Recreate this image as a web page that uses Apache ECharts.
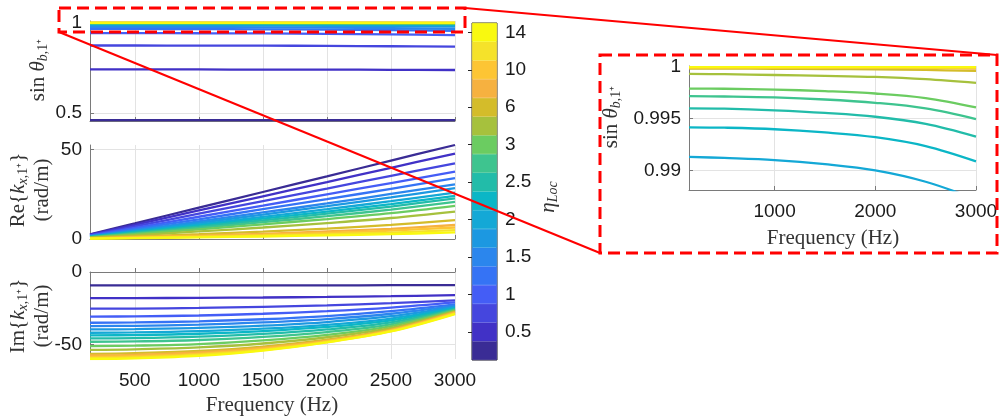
<!DOCTYPE html>
<html>
<head>
<meta charset="utf-8">
<title>sin theta / k_x vs frequency</title>
<script src="https://cdn.jsdelivr.net/npm/echarts@6/dist/echarts.min.js"></script>
<style>
  html, body { margin: 0; padding: 0; background: #fff; }
  #main { width: 1001px; height: 420px; }
</style>
</head>
<body>
<div id="main"></div>
<script>
// frequency samples (Hz)
var freq = [150, 500, 1000, 1500, 2000, 2500, 3000];

// eta_Loc levels, one per curve / colorbar band (bottom -> top)
var eta = [0.25, 0.5, 0.75, 1, 1.25, 1.5, 1.75, 2, 2.25, 2.5, 2.75, 3, 4, 6, 8, 10, 12, 14];
var etaColors = ['#3a2c95', '#4131c6', '#4546de', '#445df6', '#3573f5', '#2b86ed', '#1c98e1', '#14a8d6', '#0bb6c6',
                 '#22bca9', '#3ec48f', '#6bcc61', '#a6c13d', '#d4bc2a', '#f6b140', '#fdc534', '#f5e22a', '#f9f90f'];

// sin(theta_b,1+) per eta
var sinTheta = [
  [0.460, 0.460, 0.460, 0.460, 0.460, 0.460, 0.460],
  [0.741, 0.741, 0.741, 0.740, 0.740, 0.739, 0.738],
  [0.874, 0.874, 0.873, 0.873, 0.872, 0.870, 0.868],
  [0.943, 0.943, 0.942, 0.941, 0.939, 0.936, 0.932],
  [0.966, 0.966, 0.965, 0.964, 0.962, 0.959, 0.955],
  [0.977, 0.977, 0.976, 0.975, 0.973, 0.970, 0.966],
  [0.9855, 0.9854, 0.9850, 0.9843, 0.9832, 0.9815, 0.9790],
  [0.9913, 0.9912, 0.9910, 0.9906, 0.9900, 0.9889, 0.9872],
  [0.99417, 0.99413, 0.99398, 0.99367, 0.99321, 0.99235, 0.99087],
  [0.99600, 0.99597, 0.99581, 0.99556, 0.99519, 0.99450, 0.99327],
  [0.99718, 0.99715, 0.99706, 0.99686, 0.99654, 0.99600, 0.99497],
  [0.99792, 0.99790, 0.99782, 0.99767, 0.99744, 0.99700, 0.99609],
  [0.99933, 0.99931, 0.99923, 0.99915, 0.99904, 0.99882, 0.99846],
  [0.99985, 0.99985, 0.99983, 0.99981, 0.99978, 0.99972, 0.99962],
  [0.99995, 0.99995, 0.99994, 0.99993, 0.99992, 0.99990, 0.99986],
  [0.99998, 0.99998, 0.99998, 0.99997, 0.99997, 0.99996, 0.99994],
  [0.99999, 0.99999, 0.99999, 0.99999, 0.99999, 0.99998, 0.99997],
  [1.00000, 1.00000, 1.00000, 1.00000, 1.00000, 0.99999, 0.99999]
];

// Re{k_x,1+} (rad/m) per eta
var reK = [
  [2.6, 8.7, 17.5, 26.2, 34.9, 43.7, 52.4],
  [2.4, 7.9, 15.9, 23.8, 31.7, 39.7, 47.6],
  [2.1, 7.0, 14.1, 21.1, 28.1, 35.2, 42.2],
  [1.9, 6.2, 12.4, 18.6, 24.9, 31.2, 37.6],
  [1.7, 5.5, 11.0, 16.6, 22.2, 28.0, 33.9],
  [1.5, 4.9, 9.8, 14.8, 19.8, 25.1, 30.5],
  [1.4, 4.5, 9.0, 13.6, 18.3, 23.2, 28.3],
  [1.3, 4.1, 8.1, 12.3, 16.6, 21.1, 25.9],
  [1.2, 3.8, 7.5, 11.3, 15.3, 19.5, 24.1],
  [1.1, 3.5, 6.9, 10.4, 14.1, 18.1, 22.6],
  [1.0, 3.1, 6.2, 9.4, 12.7, 16.4, 20.7],
  [0.9, 2.7, 5.4, 8.2, 11.1, 14.4, 18.5],
  [0.7, 2.1, 4.2, 6.4, 8.9, 11.7, 15.3],
  [0.5, 1.4, 2.7, 4.1, 5.8, 7.9, 10.5],
  [0.4, 1.0, 1.9, 2.9, 4.2, 5.7, 7.8],
  [0.3, 0.8, 1.5, 2.3, 3.4, 4.7, 6.4],
  [0.2, 0.6, 1.2, 1.8, 2.6, 3.6, 5.0],
  [0.2, 0.5, 0.9, 1.4, 2.0, 2.7, 3.7]
];

// Im{k_x,1+} (rad/m) per eta
var imK = [
  [-9.2, -9.2, -9.2, -9.2, -9.2, -9.1, -9.0],
  [-18.0, -18.0, -17.8, -17.6, -17.2, -16.7, -16.0],
  [-25.3, -25.2, -24.8, -24.0, -23.0, -21.5, -19.5],
  [-30.8, -30.6, -30.0, -28.8, -27.0, -24.5, -21.0],
  [-35.0, -34.8, -34.0, -32.6, -30.4, -27.0, -22.3],
  [-37.3, -37.1, -36.3, -34.8, -32.5, -28.8, -23.2],
  [-39.6, -39.4, -38.6, -37.0, -34.5, -30.5, -24.0],
  [-41.9, -41.7, -40.8, -39.1, -36.4, -32.1, -24.6],
  [-43.7, -43.5, -42.6, -40.8, -37.9, -33.3, -25.1],
  [-45.8, -45.6, -44.6, -42.7, -39.6, -34.7, -25.6],
  [-48.1, -47.9, -46.9, -44.8, -41.4, -36.1, -26.0],
  [-51.1, -50.8, -49.7, -47.2, -43.3, -37.3, -26.5],
  [-53.7, -53.3, -52.0, -49.3, -45.0, -38.6, -27.0],
  [-56.4, -55.9, -54.4, -51.4, -46.7, -39.6, -27.5],
  [-57.6, -57.1, -55.5, -52.4, -47.4, -40.1, -27.9],
  [-58.5, -58.0, -56.4, -53.1, -47.9, -40.5, -28.3],
  [-59.4, -58.9, -57.2, -53.8, -48.3, -40.8, -28.7],
  [-60.0, -59.5, -57.8, -54.2, -48.5, -41.0, -29.0]
];

var freqTicks = [500, 1000, 1500, 2000, 2500, 3000];
var insetFreqTicks = [1000, 2000, 3000];
var sinTicks = [0.5, 1];
var reTicks = [0, 50];
var imTicks = [-50, 0];
var insetSinTicks = [0.99, 0.995, 1];

var chart = echarts.init(document.getElementById('main'));

var tickFont = 'Liberation Sans, Arial, sans-serif';
var serif = 'Liberation Serif, Times New Roman, serif';
var axisGrey = '#7a7a7a';
var gridGrey = '#e3e3e3';
var plain = function (v) { return String(v); };

function xAx(gi, ticks, min, showLabels) {
  return {
    gridIndex: gi, type: 'value', min: min, max: 3000,
    axisLine: { show: true, lineStyle: { color: axisGrey, width: 1 } },
    axisTick: { show: true, inside: true, length: 4, customValues: ticks, lineStyle: { color: axisGrey } },
    axisLabel: { show: showLabels, customValues: ticks, formatter: plain, margin: 12,
                 fontFamily: tickFont, fontSize: 19, color: '#1a1a1a' },
    splitLine: { show: true, lineStyle: { color: gridGrey, width: 1 } }
  };
}
function yAx(gi, ticks, min, max) {
  return {
    gridIndex: gi, type: 'value', min: min, max: max,
    axisLine: { show: true, lineStyle: { color: axisGrey, width: 1 } },
    axisTick: { show: true, inside: true, length: 4, customValues: ticks, lineStyle: { color: axisGrey } },
    axisLabel: { show: true, customValues: ticks, formatter: plain, margin: 8,
                 fontFamily: tickFont, fontSize: 19, color: '#1a1a1a' },
    splitLine: { show: true, lineStyle: { color: gridGrey, width: 1 } }
  };
}

function curves(rows, gi) {
  return rows.map(function (row, i) {
    return {
      type: 'line', xAxisIndex: gi, yAxisIndex: gi, name: 'eta ' + eta[i],
      data: freq.map(function (f, j) { return [f, row[j]]; }),
      smooth: 0.35, symbol: 'none', silent: true,
      lineStyle: { width: 2.3, color: etaColors[i] }, itemStyle: { color: etaColors[i] },
      z: 2
    };
  });
}

var series = [].concat(
  curves(sinTheta, 0),
  curves(reK, 1),
  curves(imK, 2),
  curves(sinTheta, 3)
);
// colorbar
series.push({
  type: 'bar', xAxisIndex: 4, yAxisIndex: 4, barCategoryGap: '0%', silent: true,
  data: eta.map(function (e, i) {
    return { value: 1, itemStyle: { color: etaColors[i], borderColor: etaColors[i], borderWidth: 0.5 } };
  })
});

var sub = { fontFamily: serif, fontSize: 14, lineHeight: 14, verticalAlign: 'bottom', fill: '#333' };
var rich = {
  n: { fontFamily: serif, fontSize: 21, lineHeight: 24, fill: '#333' },
  i: { fontFamily: serif, fontSize: 21, lineHeight: 24, fontStyle: 'italic', fill: '#333' },
  s: sub,
  si: Object.assign({}, sub, { fontStyle: 'italic' })
};
function title(x, y, text, rot, size) {
  return {
    type: 'text', x: x, y: y, rotation: rot || 0, z: 50, silent: true,
    style: {
      text: text, rich: rich, align: 'center', verticalAlign: 'middle',
      fontFamily: serif, fontSize: size || 21, fill: '#333', lineHeight: 24
    }
  };
}
var sinLabel = '{n|sin }{i|θ}{si|b}{s|,1⁺}';
var red = '#ff0000';

var option = {
  animation: false,
  backgroundColor: '#ffffff',
  grid: [
    { left: 90, top: 21, width: 365, height: 100 },
    { left: 90, top: 145, width: 365, height: 94 },
    { left: 90, top: 272, width: 365, height: 87 },
    { left: 689, top: 66, width: 287, height: 124 },
    { left: 472, top: 23, width: 25, height: 337, show: true, borderColor: '#262626', borderWidth: 1, backgroundColor: 'transparent' }
  ],
  xAxis: [
    xAx(0, freqTicks, 150, false),
    xAx(1, freqTicks, 150, false),
    xAx(2, freqTicks, 150, true),
    xAx(3, insetFreqTicks, 150, true),
    { gridIndex: 4, type: 'value', min: 0, max: 1, show: false }
  ],
  yAxis: [
    yAx(0, sinTicks, 0.455, 1.01),
    yAx(1, reTicks, 0, 52.4),
    yAx(2, imTicks, -60, 0),
    yAx(3, insetSinTicks, 0.9881, 1.0001),
    {
      gridIndex: 4, type: 'category', position: 'right',
      data: eta.map(String), boundaryGap: true,
      axisLine: { show: false },
      axisTick: { show: true, inside: true, length: 4, alignWithLabel: true,
                  interval: function (i) { return i % 2 === 1; }, lineStyle: { color: '#262626' } },
      axisLabel: { interval: function (i) { return i % 2 === 1; }, margin: 8,
                   fontFamily: tickFont, fontSize: 19, color: '#1a1a1a' },
      splitLine: { show: false }
    }
  ],
  series: series,
  graphic: [
    title(38, 70, sinLabel, Math.PI / 2),
    title(30, 190, '{n|Re{}{i|k}{si|x}{s|,1⁺}}\n{n|(rad/m)}', Math.PI / 2),
    title(30, 316, '{n|Im{}{i|k}{si|x}{s|,1⁺}}\n{n|(rad/m)}', Math.PI / 2),
    title(272, 405, '{n|Frequency (Hz)}', 0),
    title(611, 117, sinLabel, Math.PI / 2),
    title(833, 238, '{n|Frequency (Hz)}', 0),
    title(548, 197, '{i|η}{si|Loc}', Math.PI / 2),
    // zoom box on top panel, inset frame and connectors
    { type: 'rect', z: 100, silent: true, shape: { x: 59, y: 8, width: 406, height: 24 },
      style: { fill: 'none', stroke: red, lineWidth: 3, lineDash: [12, 6] } },
    { type: 'rect', z: 100, silent: true, shape: { x: 600, y: 55, width: 397, height: 198 },
      style: { fill: 'none', stroke: red, lineWidth: 3, lineDash: [12, 6] } },
    { type: 'line', z: 100, silent: true, shape: { x1: 59, y1: 32, x2: 600, y2: 253 },
      style: { stroke: red, lineWidth: 2 } },
    { type: 'line', z: 100, silent: true, shape: { x1: 465, y1: 8, x2: 997, y2: 55 },
      style: { stroke: red, lineWidth: 2 } }
  ]
};

chart.setOption(option);
</script>
</body>
</html>
